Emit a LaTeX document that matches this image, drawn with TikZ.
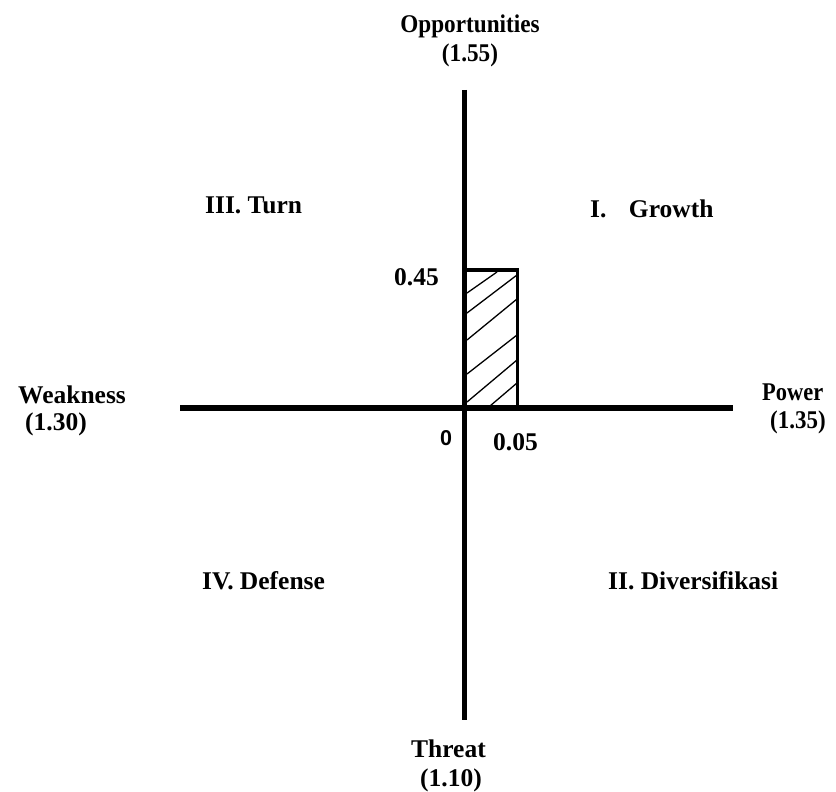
\documentclass[tikz,border=0pt]{standalone}
\usepackage{fontspec}
\setmainfont{Liberation Serif}
\newfontfamily\arialfont{Liberation Sans}
\begin{document}
\begin{tikzpicture}[x=1pt,y=-1pt,
  lbl/.style={font=\fontsize{25.5}{30}\selectfont\bfseries, inner sep=0pt, anchor=base west},
  clbl/.style={lbl, anchor=base},
  axisline/.style={line width=5.5pt},
  boxline/.style={line width=3.5pt},
  hatchline/.style={line width=1.3pt}]
\useasboundingbox (0,0) rectangle (836,792);

% hatching inside the box
\draw[hatchline] (467,293) -- (497,272);
\draw[hatchline] (467,313) -- (517,275);
\draw[hatchline] (467,340) -- (517,299);
\draw[hatchline] (467,374) -- (517,335);
\draw[hatchline] (467,402) -- (517,360);
\draw[hatchline] (490,406) -- (517,383);

% box
\coordinate (boxA) at (464.5,270);
\coordinate (boxB) at (517.5,408);
\draw[boxline] (boxA) rectangle (boxB);

% axes
\coordinate (ntop) at (464.5,90);
\coordinate (nbot) at (464.5,720);
\coordinate (wleft) at (180,408);
\coordinate (eright) at (733,408);
\draw[axisline] (ntop) -- (nbot);
\draw[axisline] (wleft) -- (eright);

% labels
\node[clbl] (opp) at (470,33) {\scalebox{0.91}[1]{Opportunities}};
\node[clbl] (opp2) at (470,62) {\scalebox{0.91}[1]{(1.55)}};
\node[lbl] (turn) at (205,213) {III. Turn};
\node[lbl] (growth) at (590,217) {I.\hspace{22.5pt}Growth};
\node[lbl] (v045) at (394,285) {0.45};
\node[lbl] (weak) at (18,403) {Weakness};
\node[lbl] (weak2) at (25,430) {(1.30)};
\node[lbl] (power) at (762,400) {\scalebox{0.88}[1]{Power}};
\node[lbl] (power2) at (770,428) {\scalebox{0.9}[1]{(1.35)}};
\node[clbl, font=\fontsize{21.5}{25}\selectfont\arialfont\bfseries] (zero) at (446,445) {0};
\node[lbl] (v005) at (493,450) {0.05};
\node[lbl] (defense) at (202,589) {IV. Defense};
\node[lbl] (divers) at (608,589) {II. Diversifikasi};
\node[clbl] (threat) at (448.5,757) {Threat};
\node[clbl] (threat2) at (451,786) {(1.10)};
\end{tikzpicture}
\end{document}
